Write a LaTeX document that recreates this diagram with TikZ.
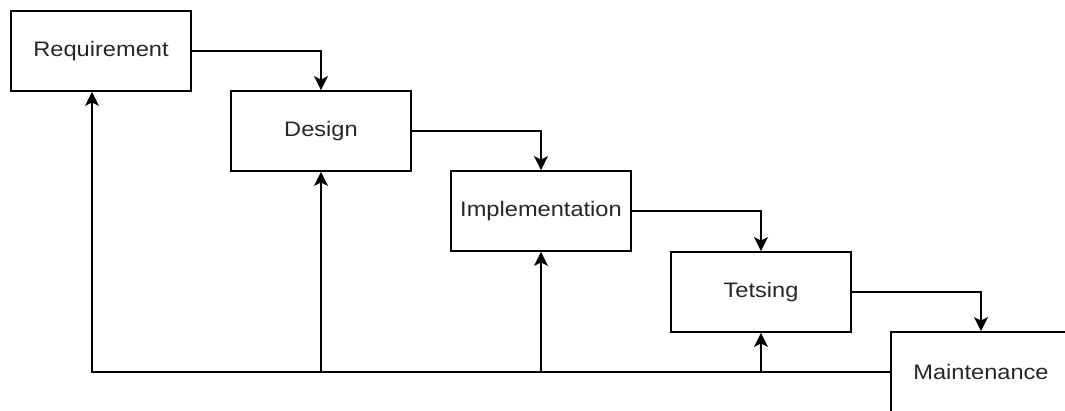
\documentclass[tikz,border=0pt]{standalone}
\usepackage{fontspec}
\setmainfont{Liberation Sans}
\usetikzlibrary{arrows.meta}
\newcommand{\widetxt}[1]{\scalebox{1.125}[1]{#1}}
\begin{document}
\begin{tikzpicture}[x=1pt,y=-1pt,
  box/.style={draw, line width=1.8pt, minimum width=180pt, minimum height=80pt, inner sep=0pt,
    font=\fontsize{21}{25}\selectfont, text=black!85},
  link/.style={line width=1.8pt, -{Stealth[length=14pt,width=14pt,inset=3.5pt]}}]
\useasboundingbox (0,0) rectangle (1065,410);
\node[box] (req) at (101,51) {\widetxt{Requirement}};
\node[box] (des) at (321,131) {\widetxt{Design}};
\node[box] (imp) at (541,211) {\widetxt{Implementation}};
\node[box] (tst) at (761,292) {\widetxt{Tetsing}};
\node[box] (mnt) at (981,372) {\widetxt{Maintenance}};
% forward flow
\draw[link] (req.east) -| (des.north);
\draw[link] (des.east) -| (imp.north);
\draw[link] (imp.east) -| (tst.north);
\draw[link] (tst.east) -| (mnt.north);
% feedback
\coordinate (reqin) at ([xshift=-9pt]req.south);
\draw[link] (mnt.west) -| (reqin);
\draw[link] (des.south |- mnt.west) -- (des.south);
\draw[link] (imp.south |- mnt.west) -- (imp.south);
\draw[link] (tst.south |- mnt.west) -- (tst.south);
\end{tikzpicture}
\end{document}
